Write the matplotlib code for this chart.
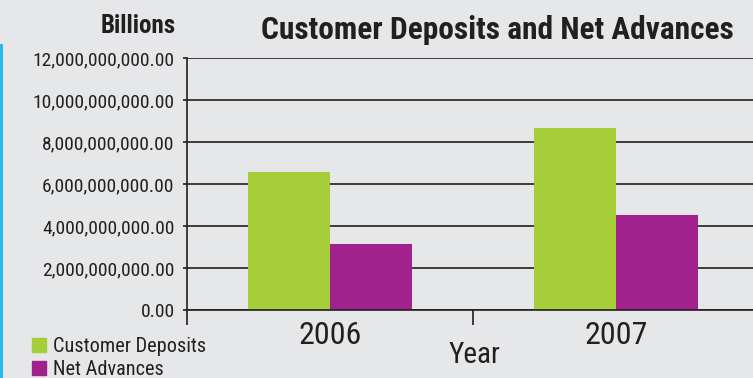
import matplotlib
matplotlib.use('Agg')
import matplotlib.pyplot as plt
from matplotlib.patches import Patch
from matplotlib.lines import Line2D
from matplotlib.ticker import FuncFormatter

# data
years = ['2006', '2007']
customer_deposits = [6.57e9, 8.67e9]
net_advances = [3.14e9, 4.52e9]
series_names = ['Customer Deposits', 'Net Advances']
y_ticks = [0, 2e9, 4e9, 6e9, 8e9, 10e9, 12e9]

green = '#A6CE39'
magenta = '#A1228C'
bg = '#E6E7E8'
ink = '#231F20'

plt.rcParams['font.family'] = ['Roboto Condensed', 'Liberation Sans Narrow', 'Liberation Sans', 'DejaVu Sans']

fig = plt.figure(figsize=(7.53, 3.78), dpi=100, facecolor=bg)
ax = fig.add_axes([187 / 753, 68 / 378, 572 / 753, 252 / 378])
ax.set_facecolor(bg)

x = range(len(years))
w = 0.287
ax.bar([i - w / 2 for i in x], customer_deposits, width=w, color=green, zorder=2)
ax.bar([i + w / 2 for i in x], net_advances, width=w, color=magenta, zorder=2)

ax.set_xlim(-0.5, len(years) - 0.5)
ax.set_ylim(0, 12e9)
ax.set_yticks(y_ticks)
ax.yaxis.set_major_formatter(FuncFormatter(lambda v, p: f'{v:,.2f}'))
ax.tick_params(axis='y', length=3, width=1.2, color=ink, pad=6,
               labelsize=14, labelcolor=ink)
ax.yaxis.grid(True, color=ink, linewidth=1.2, zorder=1)
ax.set_axisbelow(True)

# category boundaries as long ticks, labels in the middle
ax.set_xticks([i - 0.5 for i in x])
ax.set_xticklabels([])
ax.tick_params(axis='x', which='major', length=11, width=1.2, color=ink, direction='out')
ax.set_xticks(list(x), minor=True)
ax.set_xticklabels(years, minor=True)
ax.tick_params(axis='x', which='minor', length=0, pad=8, labelsize=23, labelcolor=ink)

for s in ['top', 'right']:
    ax.spines[s].set_visible(False)
for s in ['left', 'bottom']:
    ax.spines[s].set_color(ink)
    ax.spines[s].set_linewidth(1.2)

fig.text(474 / 753, 1 - 355 / 378, 'Year', ha='center', va='center', fontsize=21, color=ink)
fig.text(176 / 753, 1 - 26 / 378, 'Billions', ha='right', va='center', fontsize=18,
         fontweight='bold', color=ink)
fig.text(497 / 753, 1 - 30 / 378, 'Customer Deposits and Net Advances', ha='center',
         va='center', fontsize=22.6, fontweight='bold', color=ink)

handles = [Patch(color=green), Patch(color=magenta)]
fig.legend(handles, series_names, loc='upper left', bbox_to_anchor=(32 / 753, 1 - 337 / 378),
           frameon=False, fontsize=14.6, handlelength=0.7, handleheight=0.7,
           handletextpad=0.35, labelspacing=0.22, borderpad=0, borderaxespad=0,
           labelcolor=ink)

# thin blue strip at the left edge
fig.add_artist(Line2D([1 / 753, 1 / 753], [0, 1 - 45 / 378], color='#1CB4E8', linewidth=2))

fig.savefig('out.png', dpi=100, facecolor=bg)
